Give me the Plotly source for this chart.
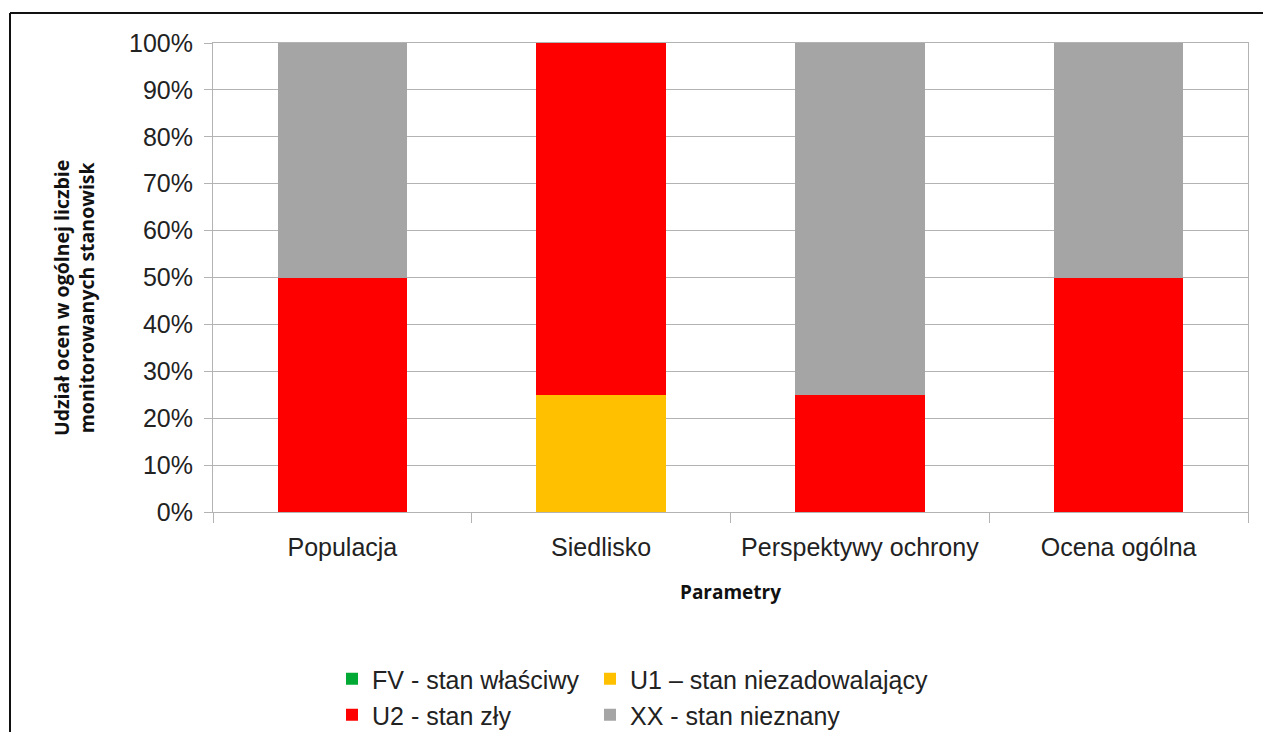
import plotly.graph_objects as go

categories = ["Populacja", "Siedlisko", "Perspektywy ochrony", "Ocena ogólna"]
fv = [0, 0, 0, 0]
u1 = [0, 25, 0, 0]
u2 = [50, 75, 25, 50]
xx = [50, 0, 75, 50]

series = [
    ("FV - stan właściwy", fv, "#00a933"),
    ("U1 – stan niezadowalający", u1, "#ffc000"),
    ("U2 - stan zły", u2, "#ff0000"),
    ("XX - stan nieznany", xx, "#a5a5a5"),
]

W, H = 1263, 732
L, R, T, B = 213, 15, 43, 0
PLOT_BOTTOM = 512
pw = W - L - R
paper_h = H - T - B

def px_x(p):
    return (p - L) / pw

def px_y(p):
    return (H - B - p) / paper_h

tick_font = dict(family="Liberation Sans, Arial, sans-serif", size=25, color="#222222")
title_font = dict(family="Open Sans, sans-serif", size=19, color="#111111")

# legend slots (2 columns x 2 rows)
legend_slots = [(332, 679), (590, 679), (332, 715), (590, 715)]
legend_ids = ["legend", "legend2", "legend3", "legend4"]

fig = go.Figure()
for (name, vals, color), lid in zip(series, legend_ids):
    fig.add_trace(go.Bar(x=categories, y=vals, name=name, marker_color=color,
                         marker_line_width=0, legend=lid, showlegend=True))

legend_layout = {}
for lid, (lx, ly) in zip(legend_ids, legend_slots):
    legend_layout[lid] = dict(orientation="h", x=px_x(lx), y=px_y(ly),
                              xanchor="left", yanchor="middle", font=tick_font,
                              bgcolor="rgba(0,0,0,0)")

fig.update_layout(
    width=W, height=H,
    margin=dict(l=L, r=R, t=T, b=B, autoexpand=False),
    showlegend=True,
    barmode="stack",
    bargap=0.5,
    plot_bgcolor="white",
    paper_bgcolor="white",
    font=tick_font,
    xaxis=dict(
        title=dict(text="<b>Parametry</b>", font=title_font, standoff=25),
        tickfont=tick_font,
        showgrid=False,
        ticks="outside", tickson="boundaries", ticklen=10, tickcolor="#b3b3b3",
        ticklabelstandoff=13,
        showline=True, linecolor="#b3b3b3", linewidth=1, mirror=True,
    ),
    yaxis=dict(
        domain=[px_y(PLOT_BOTTOM), 1],
        tickfont=tick_font,
        range=[0, 100], dtick=10, ticksuffix="%",
        showgrid=True, gridcolor="#b3b3b3", gridwidth=1,
        ticks="outside", ticklen=8, tickcolor="#b3b3b3",
        ticklabelstandoff=6,
        showline=True, linecolor="#b3b3b3", linewidth=1, mirror=True,
        zeroline=False,
    ),
    **legend_layout,
)

fig.add_annotation(
    text="<b>Udział ocen w ogólnej liczbie<br>monitorowanych stanowisk</b>",
    font=dict(family="Open Sans, sans-serif", size=19.5, color="#111111"),
    textangle=-90, xref="paper", yref="paper",
    x=px_x(74), y=px_y(298), xanchor="center", yanchor="middle",
    showarrow=False, align="center",
)

# outer frame (decoration)
fig.add_shape(type="line", xref="paper", yref="paper",
              x0=px_x(10), x1=px_x(W + 20), y0=px_y(13), y1=px_y(13),
              line=dict(color="#111111", width=2))
fig.add_shape(type="line", xref="paper", yref="paper",
              x0=px_x(10), x1=px_x(10), y0=px_y(13), y1=px_y(H + 20),
              line=dict(color="#111111", width=2))

fig.write_html("out.html", config={"displayModeBar": False},
               post_script="document.body.style.margin='0px';")
